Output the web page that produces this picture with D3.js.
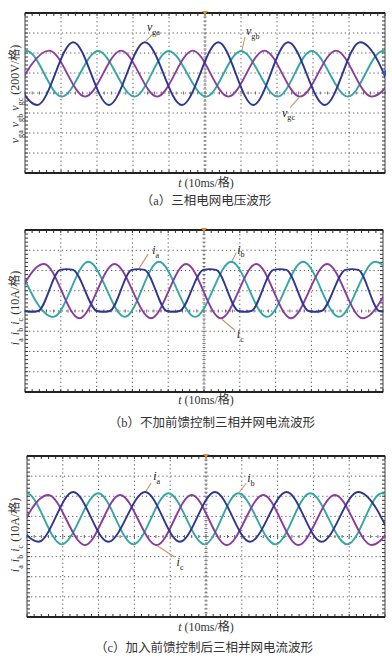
<!DOCTYPE html>
<html><head><meta charset="utf-8">
<script src="https://cdn.jsdelivr.net/npm/d3@7"></script>
<style>body{margin:0;background:#fff}svg{display:block}</style>
</head><body><svg id="chart" width="392" height="663"></svg>
<script>
// ---------- data (time in ms, 10 ms per division; level in divisions from screen centre) ----------
const timeDomain = [0, 100];
const levelDomain = [-4, 4];
const timeGrid = [10, 20, 30, 40, 50, 60, 70, 80, 90];
const levelGrid = [-3, -2, -1, 0, 1, 2, 3];
const panelTags = ["a", "b", "c"];
const captions = ["（a）三相电网电压波形", "（b）不加前馈控制三相并网电流波形", "（c）加入前馈控制后三相并网电流波形"];
const xTitle = "t (10ms/格)";
const yUnits = [" (200V/格)", " (10A/格)", " (10A/格)"];
const seriesNamesA = [["v", "ga"], ["v", "gb"], ["v", "gc"]];
const seriesNamesBC = [["i", "a"], ["i", "b"], ["i", "c"]];

// extrema (peaks / troughs)
const aVga = [[-6.6,2.54],[3.4,-0.6],[13.4,2.54],[23.3,-0.6],[33.3,2.54],[43.6,-0.6],[53.7,2.54],[63.4,-0.6],[73.1,2.54],[83.3,-0.6],[93.1,2.54],[103.2,-0.6]];
const aVgb = [[-9.5,-0.18],[0.5,2.1],[10.2,-0.18],[20.3,2.1],[30.4,-0.18],[39.9,2.1],[50.3,-0.18],[60.0,2.1],[70.2,-0.18],[79.6,2.1],[89.7,-0.18],[99.4,2.1],[109.5,-0.18]];
const aVgc = [[-3.3,-0.18],[6.75,2.12],[16.7,-0.18],[26.7,2.12],[36.7,-0.18],[46.6,2.12],[56.5,-0.18],[66.5,2.12],[76.4,-0.18],[86.4,2.12],[96.3,-0.18],[106.3,2.12]];

const bIa = [[-10.2,2.03],[-8.4,2.07],[-6.6,2.03],[0.1,0.0],[1.9,-0.04],[3.7,0.0],
  [9.8,2.03],[11.6,2.07],[13.4,2.03],[20.1,0.0],[21.9,-0.04],[23.7,0.0],
  [29.8,2.03],[31.6,2.07],[33.4,2.03],[39.6,0.0],[41.4,-0.04],[43.2,0.0],
  [49.8,2.03],[51.6,2.07],[53.4,2.03],[59.6,0.0],[61.4,-0.04],[63.2,0.0],
  [69.4,2.03],[71.2,2.07],[73.0,2.03],[79.2,0.0],[81.0,-0.04],[82.8,0.0],
  [89.5,2.03],[91.3,2.07],[93.1,2.03],[99.0,0.0],[100.8,-0.04],[102.6,0.0]];
const bIb = [[-2.3,2.43],[7.9,-0.29],[17.7,2.43],[27.9,-0.29],[37.4,2.43],[47.5,-0.29],[57.6,2.43],[67.6,-0.29],[77.7,2.43],[87.7,-0.29],[97.8,2.43],[107.8,-0.29]];
const bIc = [[-4.6,-0.36],[5.3,2.32],[15.2,-0.36],[25.0,2.32],[35.2,-0.36],[45.0,2.32],[54.7,-0.36],[64.6,2.32],[74.3,-0.36],[84.4,2.32],[94.3,-0.36],[104.3,2.32]];

const cIa = [[-7.1,2.21],[3.2,-0.26],[12.9,2.21],[22.7,-0.26],[33.0,2.21],[42.7,-0.26],[52.5,2.21],[62.3,-0.26],[72.5,2.21],[82.3,-0.26],[92.5,2.21],[102.3,-0.26]];
const cIb = [[-10.1,-0.39],[-0.1,2.15],[9.7,-0.39],[19.9,2.15],[29.7,-0.39],[39.5,2.15],[49.6,-0.39],[59.0,2.15],[69.4,-0.39],[79.1,2.15],[89.5,-0.39],[99.1,2.15],[109.3,-0.39]];
const cIc = [[-3.9,-0.42],[5.9,2.06],[16.2,-0.42],[26.0,2.06],[36.2,-0.42],[46.0,2.06],[55.8,-0.42],[66.0,2.06],[75.8,-0.42],[86.0,2.06],[96.3,-0.42],[106.0,2.06]];

// annotation anchors: [series index, time, level]
const annotA = [[0, 33.3, 2.54], [1, 60.0, 2.1], [2, 76.4, -0.18]];
const annotB = [[0, 31.6, 2.07], [1, 57.6, 2.43], [2, 54.7, -0.36]];
const annotC = [[0, 33.0, 2.21], [1, 59.0, 2.15], [2, 36.2, -0.42]];

// ---------- layout / style ----------
const colors = ["#2f3690", "#33a7a5", "#8a3d9d"];
const serif = "'Liberation Serif','Noto Sans CJK SC',serif";
const panels = [
  {box:{x0:25,x1:385,y0:13,y1:173}, series:[aVga,aVgb,aVgc], names:seriesNamesA, annot:annotA,
   off:[[2,-11,9,-9],[5,-16,4,-14],[-18,20,-10,11]], yLabY:94, xLabY:187, capY:205, capX:206, rightMark:true},
  {box:{x0:25,x1:383,y0:230,y1:392}, series:[bIa,bIb,bIc], names:seriesNamesBC, annot:annotB,
   off:[[14,-15,10,-15],[6,-8,5,-9],[16,20,14,12]], yLabY:308, xLabY:404, capY:427, capX:212},
  {box:{x0:27,x1:385,y0:456,y1:617}, series:[cIa,cIb,cIc], names:seriesNamesBC, annot:annotC,
   off:[[8,-12,6,-9],[9,-11,8,-10],[20,21,18,12]], yLabY:535, xLabY:631, capY:652, capX:204}
];

const svg = d3.select("#chart");
const defs = svg.append("defs");

function rich(sel, parts, base) {
  let shift = 0;
  parts.forEach(p => {
    const ts = sel.append("tspan").text(p[0]);
    const want = p[1] === "s" ? base * 0.3 : 0;
    if (want !== shift) { ts.attr("dy", want - shift); shift = want; }
    if (p[1] === "i") ts.attr("font-style", "italic");
    if (p[1] === "s") ts.attr("font-size", base * 0.68);
  });
}

panels.forEach((P, pi) => {
  const b = P.box;
  const x = d3.scaleLinear().domain(timeDomain).range([b.x0, b.x1]);
  const y = d3.scaleLinear().domain(levelDomain).range([b.y1, b.y0]);
  const g = svg.append("g");

  // dotted grid
  g.selectAll(".vg").data(timeGrid).join("line")
    .attr("x1", d => x(d)).attr("x2", d => x(d)).attr("y1", b.y0).attr("y2", b.y1)
    .attr("stroke", "#555").attr("stroke-width", 1).attr("stroke-dasharray", "1.2,2.9");
  g.selectAll(".hg").data(levelGrid).join("line")
    .attr("y1", d => y(d)).attr("y2", d => y(d)).attr("x1", b.x0).attr("x2", b.x1)
    .attr("stroke", "#555").attr("stroke-width", 1).attr("stroke-dasharray", "1.2,2.9");

  // minor ticks along edges and centre lines
  const tMinor = d3.range(timeDomain[0], timeDomain[1] + 0.01, 2);
  const lMinor = d3.range(levelDomain[0], levelDomain[1] + 0.001, 0.2);
  const tk = g.append("g").attr("stroke", "#333").attr("stroke-width", 1);
  tMinor.forEach(t => {
    tk.append("line").attr("x1", x(t)).attr("x2", x(t)).attr("y1", b.y0).attr("y2", b.y0 + 3);
    tk.append("line").attr("x1", x(t)).attr("x2", x(t)).attr("y1", b.y1).attr("y2", b.y1 - 3);
    tk.append("line").attr("x1", x(t)).attr("x2", x(t)).attr("y1", y(0) - 1.5).attr("y2", y(0) + 1.5).attr("stroke", "#666");
  });
  lMinor.forEach(l => {
    tk.append("line").attr("y1", y(l)).attr("y2", y(l)).attr("x1", b.x0).attr("x2", b.x0 + 3);
    tk.append("line").attr("y1", y(l)).attr("y2", y(l)).attr("x1", b.x1).attr("x2", b.x1 - 3);
    tk.append("line").attr("y1", y(l)).attr("y2", y(l)).attr("x1", x(50) - 1.5).attr("x2", x(50) + 1.5).attr("stroke", "#666");
  });

  // frame
  g.append("rect").attr("x", b.x0).attr("y", b.y0).attr("width", b.x1 - b.x0).attr("height", b.y1 - b.y0)
    .attr("fill", "none").attr("stroke", "#444").attr("stroke-width", 1);
  g.append("line").attr("x1", b.x0).attr("x2", b.x1).attr("y1", b.y0).attr("y2", b.y0).attr("stroke", "#222").attr("stroke-width", 2);
  g.append("line").attr("x1", b.x0).attr("x2", b.x1).attr("y1", b.y1).attr("y2", b.y1).attr("stroke", "#222").attr("stroke-width", 2);

  // traces
  const cid = "clip" + pi;
  defs.append("clipPath").attr("id", cid).append("rect")
    .attr("x", b.x0).attr("y", b.y0).attr("width", b.x1 - b.x0).attr("height", b.y1 - b.y0);
  const line = d3.line().x(d => x(d[0])).y(d => y(d[1])).curve(d3.curveMonotoneX);
  const order = [1, 2, 0];
  g.append("g").attr("clip-path", `url(#${cid})`).selectAll("path").data(order).join("path")
    .attr("d", k => line(P.series[k])).attr("fill", "none")
    .attr("stroke", k => colors[k]).attr("stroke-width", 1.9).attr("stroke-linejoin", "round");

  // trigger markers
  const xm = x(50);
  g.append("path").attr("d", `M${xm - 3},${b.y0 - 2}L${xm + 3},${b.y0 - 2}L${xm},${b.y0 + 2}Z`).attr("fill", "#e8892b");
  if (P.rightMark) {
    const ym = y(1);
    g.append("path").attr("d", `M${b.x1 + 1},${ym - 3}L${b.x1 + 1},${ym + 3}L${b.x1 - 4},${ym}Z`).attr("fill", "#2a5cc4");
  }

  // annotations
  P.annot.forEach((a, j) => {
    const ax = x(a[1]), ay = y(a[2]);
    const o = P.off[j];
    g.append("line").attr("x1", ax + Math.sign(o[2]) * 1).attr("y1", ay + Math.sign(o[3]) * 1)
      .attr("x2", ax + o[2]).attr("y2", ay + o[3]).attr("stroke", "#c9945c").attr("stroke-width", 1.1);
    const t = g.append("text").attr("x", ax + o[0]).attr("y", ay + o[1])
      .attr("font-family", serif).attr("font-size", 12).attr("fill", "#222");
    const nm = P.names[a[0]];
    rich(t, [[nm[0], "i"], [nm[1], "s"]], 12);
  });

  // y title (rotated)
  const yt = g.append("text").attr("transform", `translate(19,${P.yLabY}) rotate(-90)`)
    .attr("text-anchor", "middle").attr("font-family", serif).attr("font-size", 12).attr("fill", "#333");
  const parts = [];
  P.names.forEach((nm, j) => { parts.push([nm[0], "i"], [nm[1], "s"]); if (j < 2) parts.push([" ", ""]); });
  parts.push([yUnits[pi], ""]);
  rich(yt, parts, 12);

  // x title
  const xt = g.append("text").attr("x", 206).attr("y", P.xLabY).attr("text-anchor", "middle")
    .attr("font-family", serif).attr("font-size", 12).attr("fill", "#333");
  rich(xt, [["t", "i"], [xTitle.slice(1), ""]], 12);

  // caption
  g.append("text").attr("x", P.capX).attr("y", P.capY).attr("text-anchor", "middle")
    .attr("font-family", serif).attr("font-size", 12.5).attr("fill", "#333").text(captions[pi]);
});
</script></body></html>
